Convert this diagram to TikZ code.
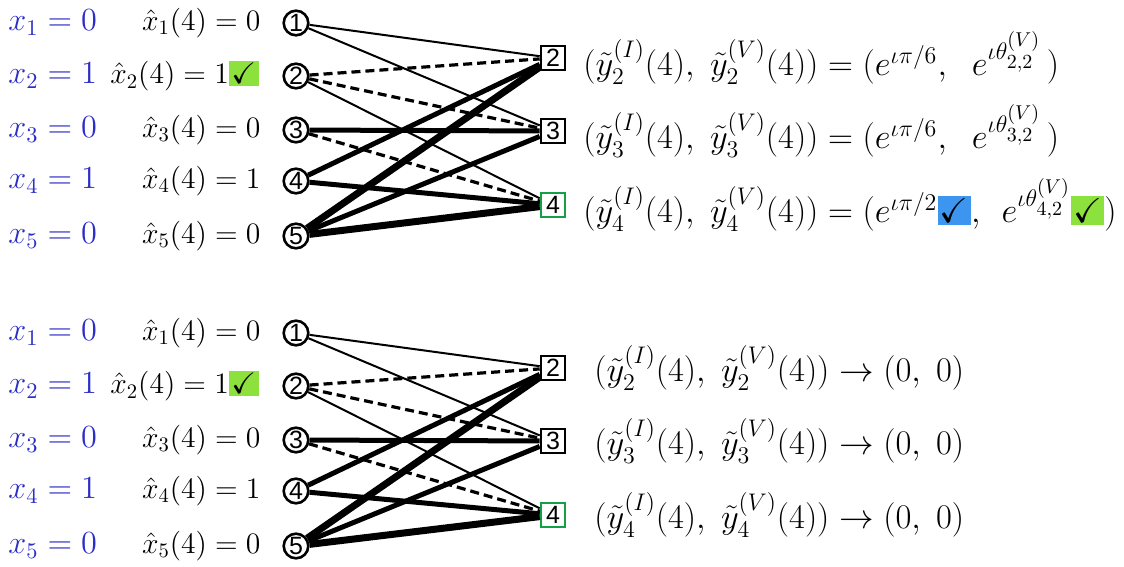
\documentclass[tikz,border=0pt]{standalone}
\usepackage{graphicx}
\usepackage{amssymb}
\usepackage{fontspec}
\newfontfamily\numfont{Liberation Sans}
\definecolor{xblue}{RGB}{45,45,200}
\definecolor{chkgreen}{RGB}{140,225,60}
\definecolor{chkblue}{RGB}{60,150,240}
\definecolor{boxgreen}{RGB}{20,160,70}
\newcommand{\gchk}{{\setlength{\fboxsep}{1.2pt}\colorbox{chkgreen}{$\checkmark$}}}
\newcommand{\bchk}{{\setlength{\fboxsep}{1.2pt}\colorbox{chkblue}{$\checkmark$}}}
\newcommand{\blt}[1]{\scalebox{1.12}{#1}}
\newcommand{\hlt}[1]{\scalebox{1.03}{#1}}
\begin{document}
\begin{tikzpicture}[x=0.5pt,y=-0.5pt,
  var/.style={circle,draw,line width=1.3pt,fill=white,inner sep=0pt,minimum size=12.3pt,font=\numfont\fontsize{12.5}{12.5}\selectfont},
  chkn/.style={rectangle,draw,line width=1.3pt,fill=white,inner sep=0pt,minimum size=12pt,font=\numfont\fontsize{12.5}{12.5}\selectfont},
  blbl/.style={font=\fontsize{14.4}{17}\selectfont,inner sep=0pt,text=xblue,anchor=west},
  hlbl/.style={font=\fontsize{14.4}{17}\selectfont,inner sep=0pt,anchor=east},
  rlbl/.style={font=\fontsize{17.28}{20}\selectfont,inner sep=0pt,anchor=west},
  ethin/.style={line width=1pt},
  edash/.style={line width=1.6pt,dash pattern=on 4.5pt off 2.5pt},
  ethick/.style={line width=2.5pt},
  ebold/.style={line width=3.5pt}]
\useasboundingbox (0,0) rectangle (1124,567);
\foreach \g/\dy in {a/0,b/310}{
  \foreach \i/\yy in {1/23,2/76,3/130,4/181,5/236}{
    \node[var] (\g v\i) at (296,\yy+\dy) {\i};
  }
  \node[chkn] (\g c2) at (553,58+\dy) {2};
  \node[chkn] (\g c3) at (553,131+\dy) {3};
  \node[chkn,draw=boxgreen] (\g c4) at (553,205+\dy) {4};
  \node[blbl] (\g x1) at (8,23+\dy) {\blt{$x_1=0$}};
  \node[blbl] (\g x2) at (8,76+\dy) {\blt{$x_2=1$}};
  \node[blbl] (\g x3) at (8,130+\dy) {\blt{$x_3=0$}};
  \node[blbl] (\g x4) at (8,181+\dy) {\blt{$x_4=1$}};
  \node[blbl] (\g x5) at (8,236+\dy) {\blt{$x_5=0$}};
  \node[hlbl] (\g h1) at (261,23+\dy) {\hlt{$\hat{x}_1(4)=0$}};
  \node[hlbl] (\g h2) at (259,76+\dy) {\hlt{$\hat{x}_2(4)=1$\gchk}};
  \node[hlbl] (\g h3) at (261,130+\dy) {\hlt{$\hat{x}_3(4)=0$}};
  \node[hlbl] (\g h4) at (261,181+\dy) {\hlt{$\hat{x}_4(4)=1$}};
  \node[hlbl] (\g h5) at (261,236+\dy) {\hlt{$\hat{x}_5(4)=0$}};
  \draw[ethin] (\g v1) -- (\g c2);
  \draw[ethin] (\g v1) -- (\g c3);
  \draw[edash] (\g v2) -- (\g c2);
  \draw[edash] (\g v2) -- (\g c3);
  \draw[ethin] (\g v2) -- (\g c4);
  \draw[ethick] (\g v3) -- (\g c3);
  \draw[edash] (\g v3) -- (\g c4);
  \draw[ethick] (\g v4) -- (\g c2);
  \draw[ethick] (\g v4) -- (\g c4);
  \draw[ebold] (\g v5) -- (\g c2);
  \draw[ethick] (\g v5) -- (\g c3);
  \draw[ebold] (\g v5) -- (\g c4);
}
\node[rlbl] (ar2) at (583,58) {$(\tilde y_2^{(I)}(4),\;\tilde y_2^{(V)}(4)) = (e^{\iota\pi/6},\;\; e^{\iota\theta^{(V)}_{2,2}}\,)$};
\node[rlbl] (ar3) at (583,131) {$(\tilde y_3^{(I)}(4),\;\tilde y_3^{(V)}(4)) = (e^{\iota\pi/6},\;\; e^{\iota\theta^{(V)}_{3,2}}\,)$};
\node[rlbl] (ar4) at (583,205) {$(\tilde y_4^{(I)}(4),\;\tilde y_4^{(V)}(4)) = (e^{\iota\pi/2}$\bchk$,\;\, e^{\iota\theta^{(V)}_{4,2}}$\gchk$)$};
\node[rlbl] (br2) at (594,368) {$(\tilde y_2^{(I)}(4),\;\tilde y_2^{(V)}(4)) \to (0,\;0)$};
\node[rlbl] (br3) at (594,441) {$(\tilde y_3^{(I)}(4),\;\tilde y_3^{(V)}(4)) \to (0,\;0)$};
\node[rlbl] (br4) at (594,515) {$(\tilde y_4^{(I)}(4),\;\tilde y_4^{(V)}(4)) \to (0,\;0)$};
\end{tikzpicture}
\end{document}
